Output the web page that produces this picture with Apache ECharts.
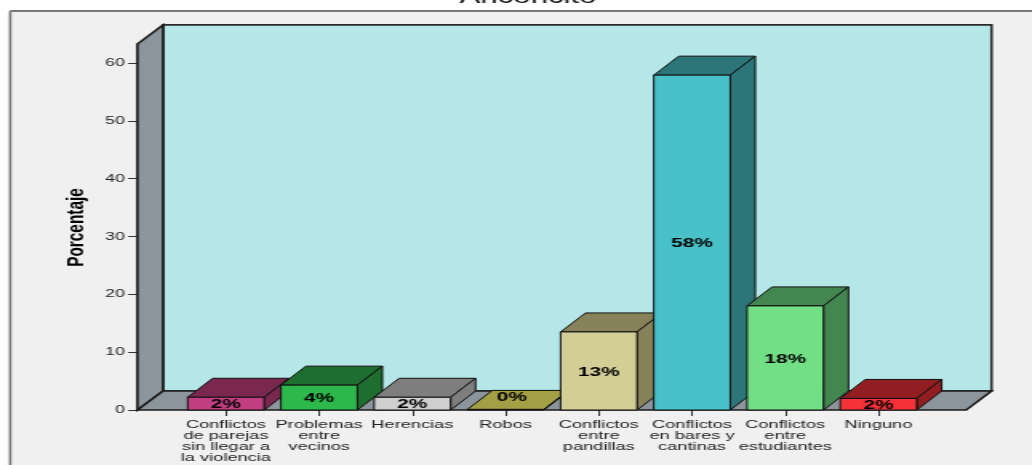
<!DOCTYPE html>
<html>
<head>
<meta charset="utf-8">
<style>
html,body{margin:0;padding:0;background:#fff;overflow:hidden}
#chart{width:645px;height:465px;transform:scaleX(1.6);transform-origin:0 0;filter:blur(0.3px)}
</style>
<script src="https://cdn.jsdelivr.net/npm/echarts@6/dist/echarts.min.js"></script>
</head>
<body>
<div id="chart"></div>
<script>
var categories = ['Conflictos\nde parejas\nsin llegar a\nla violencia','Problemas\nentre\nvecinos','Herencias','Robos','Conflictos\nentre\npandillas','Conflictos\nen bares y\ncantinas','Conflictos\nentre\nestudiantes','Ninguno'];
var porcentajes = [2.2,4.3,2.2,0.1,13.5,57.9,18,2];
var etiquetas = ['2%','4%','2%','0%','13%','58%','18%','2%'];
var frontColors = ['#c13f80','#2cb84a','#cfcfcf','#a39f45','#d3cd96','#48c2c8','#72de85','#f53237'];
var sideColors = ['#7a2850','#1e6e2f','#7e7e7e','#a39f45','#878259','#2c7578','#448650','#921e21'];
var yTicks = {min:0,max:60,interval:10};
var wallTopValue = 63.3;

var DX = 25/1.6, DY = 19, PAD = 26.2, FONT = '"Liberation Sans",Arial,sans-serif';
var chart = echarts.init(document.getElementById('chart'));

function poly(pts, fill, sw, stroke){
  return {type:'polygon',shape:{points:pts},style:{fill:fill,stroke:stroke||'#111',lineWidth:sw}};
}
function renderWalls(params, api){
  var band = api.size([1,0])[0];
  var o = api.coord([0,0]), e = api.coord([categories.length-1,0]), t = api.coord([0,wallTopValue]);
  var l = o[0]-band/2-PAD, r = e[0]+band/2+PAD, b = o[1], top = t[1];
  var bl = l+DX+0.4, br = r+DX-0.3;
  return {type:'group',children:[
    poly([[bl,top-DY],[br,top-DY],[br,b-DY],[bl,b-DY]],'#b6e7e8',1.6,'#2a2a2a'),
    poly([[l,top],[bl,top-DY],[bl,b-DY],[l,b]],'#8c949c',1.6,'#1a1a1a'),
    poly([[l,b],[bl,b-DY],[br,b-DY],[r-0.5,b]],'#8c949c',1.6,'#1a1a1a')
  ]};
}
function renderBar(params, api){
  var i = params.dataIndex, band = api.size([1,0])[0], w = band*0.82;
  var c = api.coord([api.value(0),api.value(1)]), z = api.coord([api.value(0),0]);
  var l = c[0]-w/2, r = c[0]+w/2, t = c[1], b = z[1];
  var mid = (t+b)/2+1, tx = c[0];
  if (b-t<4) { mid -= 13; tx += 4; }
  return {type:'group',children:[
    poly([[l,t],[r,t],[r+DX,t-DY],[l+DX,t-DY]],sideColors[i],1),
    poly([[r,t],[r+DX,t-DY],[r+DX,b-DY],[r,b]],sideColors[i],1),
    poly([[l,t],[r,t],[r,b],[l,b]],frontColors[i],1),
    {type:'text',z2:10,style:{text:etiquetas[i],x:tx,y:mid,align:'center',verticalAlign:'middle',
      fill:'#000',font:'bold 13px '+FONT}}
  ]};
}
chart.setOption({
  animation:false,
  backgroundColor:'#ffffff',
  title:{text:'Anconcito',left:325,textAlign:'center',top:-17,textStyle:{fontFamily:FONT,fontSize:19.5,fontWeight:'normal',color:'#111'}},
  graphic:[
    {type:'rect',z:-5,silent:true,shape:{x:6.4,y:11,width:700,height:500},style:{fill:'#f0f0f0'}},
    {type:'line',z:-4,silent:true,shape:{x1:6.4,y1:11,x2:700,y2:11},style:{stroke:'#777',lineWidth:2}},
    {type:'line',z:-4,silent:true,shape:{x1:6.4,y1:11,x2:6.4,y2:500},style:{stroke:'#777',lineWidth:1.6}}
  ],
  grid:{left:112.1,width:466.1,top:63,height:347,containLabel:false},
  xAxis:{type:'category',data:categories,
    axisLine:{show:false},
    axisTick:{show:true,alignWithLabel:true,length:6,lineStyle:{color:'#333',width:1}},
    axisLabel:{interval:0,margin:9,lineHeight:11,fontFamily:FONT,fontSize:11.4,color:'#222',hideOverlap:false}},
  yAxis:{type:'value',min:yTicks.min,max:yTicks.max,interval:yTicks.interval,offset:26,
    name:'Porcentaje',nameLocation:'middle',nameRotate:90,nameGap:23,
    nameTextStyle:{fontFamily:FONT,fontSize:15.4,fontWeight:'bold',color:'#000',padding:[0,0,0,18]},
    axisLine:{show:false},
    axisTick:{show:true,length:6,lineStyle:{color:'#333',width:1}},
    axisLabel:{margin:8,fontFamily:FONT,fontSize:11,color:'#222'},
    splitLine:{show:false}},
  series:[
    {type:'custom',clip:false,silent:true,z:1,data:[[0,0]],renderItem:renderWalls},
    {type:'custom',clip:false,silent:true,z:2,data:porcentajes.map(function(v,i){return [i,v];}),
      encode:{x:0,y:1},renderItem:renderBar}
  ]
});
</script>
</body>
</html>
